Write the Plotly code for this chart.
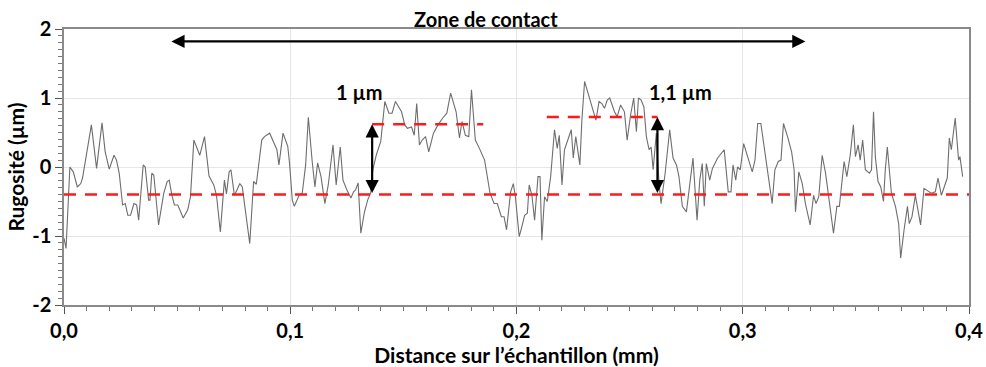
import plotly.graph_objects as go

# profil de rugosité (mm, µm)
distance_mm = [
    0.0000, 0.0009, 0.0026, 0.0041, 0.0059, 0.0074, 0.0082, 0.0100, 0.0121, 0.0144,
    0.0168, 0.0182, 0.0200, 0.0221, 0.0232, 0.0244, 0.0259, 0.0271, 0.0282, 0.0294,
    0.0309, 0.0321, 0.0330, 0.0350, 0.0359, 0.0374, 0.0380, 0.0388, 0.0397, 0.0418,
    0.0441, 0.0456, 0.0465, 0.0477, 0.0488, 0.0503, 0.0527, 0.0547, 0.0559, 0.0574,
    0.0600, 0.0621, 0.0641, 0.0662, 0.0674, 0.0691, 0.0709, 0.0718, 0.0730, 0.0738,
    0.0753, 0.0765, 0.0777, 0.0788, 0.0806, 0.0821, 0.0838, 0.0850, 0.0874, 0.0886,
    0.0909, 0.0933, 0.0941, 0.0950, 0.0968, 0.0989, 0.0997,
    0.1009, 0.1018, 0.1039, 0.1053, 0.1068, 0.1080, 0.1097, 0.1109, 0.1121, 0.1136,
    0.1153, 0.1168, 0.1189, 0.1203, 0.1221, 0.1233, 0.1250, 0.1268, 0.1280, 0.1289,
    0.1300, 0.1312, 0.1327, 0.1342, 0.1356, 0.1365, 0.1380, 0.1400, 0.1418, 0.1436,
    0.1450, 0.1465, 0.1492, 0.1506, 0.1518, 0.1536, 0.1548, 0.1559, 0.1571, 0.1583,
    0.1598, 0.1612, 0.1633, 0.1653, 0.1674, 0.1692, 0.1709, 0.1733, 0.1748, 0.1759,
    0.1774, 0.1789, 0.1801, 0.1818, 0.1836, 0.1859, 0.1883, 0.1901, 0.1915, 0.1933,
    0.1945, 0.1956, 0.1974, 0.1986, 0.1995, 0.2004,
    0.2012, 0.2024, 0.2036, 0.2048, 0.2056, 0.2068, 0.2080, 0.2095, 0.2104, 0.2112,
    0.2124, 0.2136, 0.2151, 0.2168, 0.2180, 0.2189, 0.2201, 0.2212, 0.2230, 0.2242,
    0.2251, 0.2262, 0.2280, 0.2289, 0.2301, 0.2321, 0.2336, 0.2351, 0.2365, 0.2377,
    0.2389, 0.2401, 0.2412, 0.2433, 0.2445, 0.2460, 0.2477, 0.2489, 0.2504, 0.2518,
    0.2530, 0.2539, 0.2551, 0.2563, 0.2574, 0.2586, 0.2595, 0.2604, 0.2618, 0.2630,
    0.2639, 0.2657, 0.2677, 0.2692, 0.2707, 0.2718, 0.2733, 0.2751, 0.2780, 0.2798,
    0.2810, 0.2821, 0.2830, 0.2839, 0.2854, 0.2866, 0.2889, 0.2918, 0.2936, 0.2948,
    0.2957, 0.2969, 0.2977, 0.2989,
    0.3004, 0.3016, 0.3027, 0.3042, 0.3054, 0.3066, 0.3080, 0.3098, 0.3116, 0.3130,
    0.3142, 0.3157, 0.3169, 0.3180, 0.3198, 0.3216, 0.3227, 0.3233, 0.3248, 0.3263,
    0.3277, 0.3298, 0.3313, 0.3324, 0.3336, 0.3351, 0.3366, 0.3383, 0.3401, 0.3416,
    0.3427, 0.3448, 0.3460, 0.3475, 0.3489, 0.3498, 0.3510, 0.3519, 0.3530, 0.3542,
    0.3560, 0.3569, 0.3578, 0.3586, 0.3598, 0.3610, 0.3622, 0.3630, 0.3639, 0.3657,
    0.3675, 0.3689, 0.3698, 0.3713, 0.3728, 0.3736, 0.3748, 0.3763, 0.3775, 0.3786,
    0.3801, 0.3822, 0.3833, 0.3851, 0.3863, 0.3878, 0.3895, 0.3904, 0.3913, 0.3922,
    0.3939, 0.3954, 0.3960, 0.3972,
]
rugosite_um = [
    -1.03, -1.18, 0.00, -0.07, -0.29, -0.24, -0.16, 0.20, 0.61, -0.02,
    0.64, 0.22, -0.03, 0.17, 0.10, -0.09, -0.55, -0.53, -0.70, -0.70,
    -0.53, -0.55, -0.77, 0.03, 0.00, -0.48, -0.48, -0.09, -0.12, -0.84,
    -0.38, -0.21, -0.19, -0.41, -0.55, -0.55, -0.74, -0.62, -0.43, 0.39,
    0.17, 0.44, -0.13, -0.26, -0.41, -0.94, -0.19, -0.39, -0.07, -0.04,
    -0.41, -0.33, -0.24, -0.29, -0.72, -1.11, -0.21, -0.25, 0.39, 0.44,
    0.49, 0.29, 0.25, 0.03, 0.49, 0.30, 0.05,
    -0.48, -0.57, -0.41, -0.38, 0.03, 0.72, 0.08, -0.29, 0.06, -0.14,
    -0.53, -0.26, 0.32, -0.26, 0.29, -0.19, -0.33, -0.45, -0.36, -0.33,
    -0.23, -0.96, -0.67, -0.48, -0.37, -0.04, 0.17, 0.37, 0.95, 0.78,
    0.78, 0.95, 0.80, 0.61, 0.56, 0.58, 0.46, 0.92, 0.32, 0.39,
    0.44, 0.22, 0.49, 0.61, 0.71, 0.78, 1.07, 0.80, 0.42, 0.66,
    0.46, 0.44, 1.12, 0.39, 0.27, 0.10, -0.38, -0.53, -0.53, -0.72,
    -0.72, -0.91, -0.36, -0.24, -0.43, -0.72,
    -1.01, -0.86, -0.70, -0.67, -0.26, -0.41, -0.77, -0.14, -0.14, -1.06,
    -0.43, -0.50, -0.14, 0.54, 0.27, 0.46, -0.26, 0.25, 0.44, 0.54,
    0.13, 0.44, 0.03, 0.68, 1.24, 1.02, 0.83, 0.68, 0.95, 0.92,
    0.85, 0.97, 1.00, 0.80, 0.73, 0.90, 0.80, 0.39, 0.75, 1.00,
    0.51, 1.00, 0.97, 0.87, 0.44, 0.25, 0.29, -0.04, 0.49, -0.24,
    -0.53, -0.09, 0.54, 0.13, 0.03, -0.14, -0.57, -0.65, 0.13, -0.77,
    -0.19, 0.05, -0.57, 0.05, -0.19, -0.02, 0.13, 0.25, -0.36, -0.36,
    0.03, -0.19, 0.00, -0.04,
    0.34, 0.22, 0.10, -0.07, 0.10, 0.63, 0.63, 0.22, -0.14, -0.53,
    -0.04, 0.08, 0.10, 0.63, 0.44, 0.22, -0.04, -0.65, -0.07, -0.24,
    -0.53, -0.84, -0.41, -0.53, -0.43, 0.17, -0.09, -0.55, -0.96, -0.57,
    -0.57, 0.08, -0.14, 0.17, 0.61, 0.15, 0.32, 0.10, 0.39, -0.04,
    -0.09, -0.04, 0.80, 0.15, -0.21, -0.29, -0.50, -0.04, 0.29, -0.38,
    -0.57, -0.82, -1.32, -0.91, -0.57, -0.82, -0.72, -0.41, -0.62, -0.84,
    -0.31, -0.36, -0.38, -0.36, -0.16, -0.41, -0.24, -0.16, 0.42, 0.25,
    0.71, 0.10, 0.15, -0.14,
]

# niveaux de référence (µm) et leurs étendues (mm)
niveau_bas = -0.40
palier_1 = 0.62
palier_1_x = [0.1362, 0.1853]
palier_2 = 0.725
palier_2_x = [0.2134, 0.2623]
zone_contact_x = [0.0468, 0.3277]
zone_contact_y = 1.82

police = "Lato"
rouge = "#ff1a1a"

fig = go.Figure()

fig.add_trace(go.Scatter(
    x=distance_mm, y=rugosite_um, mode="lines",
    line=dict(color="#6e6e6e", width=1.1),
    showlegend=False,
))

for xs, niveau in [([0.0, 0.4], niveau_bas), (palier_1_x, palier_1), (palier_2_x, palier_2)]:
    fig.add_trace(go.Scatter(
        x=xs, y=[niveau, niveau], mode="lines",
        line=dict(color=rouge, width=2.5, dash="12px,9px"),
        showlegend=False,
    ))

fleche = dict(xref="x", yref="y", axref="x", ayref="y", text="",
              showarrow=True, arrowhead=2, arrowside="end+start",
              arrowsize=1.2, arrowwidth=2.2, arrowcolor="black")

fig.add_annotation(x=zone_contact_x[1], y=zone_contact_y,
                   ax=zone_contact_x[0], ay=zone_contact_y, **fleche)
fig.add_annotation(x=palier_1_x[0], y=palier_1,
                   ax=palier_1_x[0], ay=niveau_bas, **fleche)
fig.add_annotation(x=palier_2_x[1], y=palier_2,
                   ax=palier_2_x[1], ay=niveau_bas, **fleche)

texte = dict(showarrow=False, yanchor="middle",
             font=dict(family=police, size=20, color="black", weight="bold"))
fig.add_annotation(x=0.1867, y=1.035, xref="x", yref="paper", text="Zone de contact", **texte)
fig.add_annotation(x=0.1306, y=1.09, text="1 µm", **texte)
fig.add_annotation(x=0.2727, y=1.08, text="1,1 µm", **texte)

axe = dict(
    showline=True, mirror=True, linecolor="#8a8a8a", linewidth=1.5,
    ticks="outside", tickcolor="#555", ticklen=7,
    showgrid=True, gridcolor="#e6e6e6", gridwidth=1,
    zeroline=False, automargin=False,
    tickfont=dict(family=police, size=20, color="black", weight="bold"),
)

fig.update_xaxes(
    range=[0, 0.4], dtick=0.1, tickformat=".1f",
    minor=dict(dtick=0.01, ticks="outside", ticklen=4, tickcolor="#777", showgrid=False),
    title=dict(text="Distance sur l’échantillon (mm)", standoff=4,
               font=dict(family=police, size=21, color="black", weight="bold")),
    **axe,
)
fig.update_yaxes(
    range=[-2, 2], tickvals=[-2, -1, 0, 1, 2], ticktext=["-2", "-1", "0", "1", "2"],
    minor=dict(dtick=0.1, ticks="outside", ticklen=4, tickcolor="#777", showgrid=False),
    title=dict(text="Rugosité (µm)", standoff=2,
               font=dict(family=police, size=21, color="black", weight="bold")),
    **axe,
)

fig.update_layout(
    width=986, height=367,
    separators=", ",
    plot_bgcolor="white", paper_bgcolor="white",
    margin=dict(l=64, r=17, t=29, b=62),
    font=dict(family=police),
)

# pas de marge de page autour de la figure (évite le décalage et le rognage)
fig.write_html("out.html", config={"displayModeBar": False},
               post_script="document.body.style.margin='0';")
